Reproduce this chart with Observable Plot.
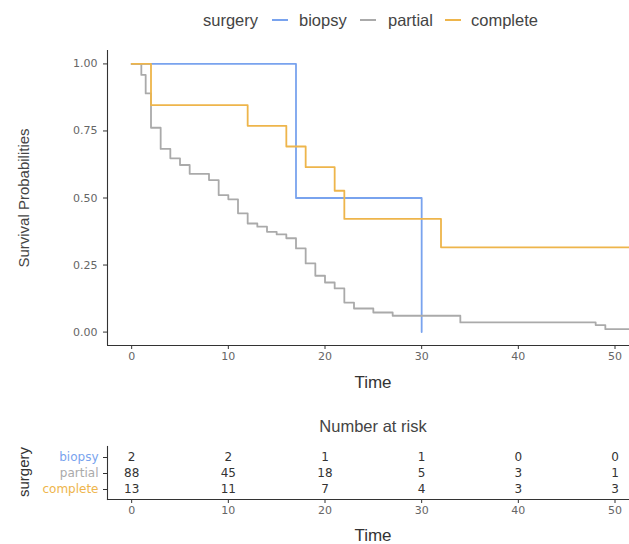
<!DOCTYPE html>
<html><head><meta charset="utf-8">
<script src="https://cdn.jsdelivr.net/npm/d3@7"></script>
<script src="https://cdn.jsdelivr.net/npm/@observablehq/plot@0.6"></script>
<style>
body{margin:0;background:#fff;}
#wrap{position:relative;width:629px;height:544px;overflow:hidden;font-family:"Liberation Sans",Arial,sans-serif;color:#333;}
.abs{position:absolute;white-space:nowrap;line-height:1;}
.abs svg{display:block;}
</style></head><body><div id="wrap"></div>
<script>
// ---- data ----
const strata = ["biopsy", "partial", "complete"];
const strataColors = ["#79a3ee", "#aaaaaa", "#eeb54b"];

const biopsyTime = [0, 17, 30];
const biopsySurv = [1, 0.5, 0];

const partialTime = [0, 1, 1.45, 2, 3, 4, 5, 6, 8, 9, 10, 11, 12, 13, 14, 15, 16, 17, 18, 19, 20, 21, 22, 23, 25, 27, 34, 48, 49, 51.5];
const partialSurv = [1, 0.959, 0.89, 0.762, 0.683, 0.648, 0.623, 0.59, 0.567, 0.511, 0.495, 0.443, 0.405, 0.393, 0.374, 0.364, 0.35, 0.312, 0.256, 0.21, 0.185, 0.163, 0.11, 0.088, 0.073, 0.061, 0.036, 0.026, 0.011, 0.011];

const completeTime = [0, 2, 12, 16, 18, 21, 22, 32, 51.5];
const completeSurv = [1, 0.846, 0.769, 0.692, 0.615, 0.527, 0.422, 0.316, 0.316];

const riskTimes = [0, 10, 20, 30, 40, 50];
const riskBiopsy = [2, 2, 1, 1, 0, 0];
const riskPartial = [88, 45, 18, 5, 3, 1];
const riskComplete = [13, 11, 7, 4, 3, 3];

const xTicks = [0, 10, 20, 30, 40, 50];
const yTicks = [0, 0.25, 0.5, 0.75, 1];
const xDomain = [-2.5, 51.5];
const yDomain = [-0.05, 1.05];

// ---- build tables ----
const curves = [];
[[biopsyTime, biopsySurv], [partialTime, partialSurv], [completeTime, completeSurv]].forEach(([t, s], i) => {
  t.forEach((v, j) => curves.push({time: v, surv: s[j], strata: strata[i]}));
});
const risk = [];
[riskBiopsy, riskPartial, riskComplete].forEach((arr, i) => {
  arr.forEach((n, j) => risk.push({time: riskTimes[j], n, strata: strata[i]}));
});

const wrap = document.getElementById("wrap");
function addText(txt, css) {
  const d = document.createElement("div");
  d.className = "abs";
  d.textContent = txt;
  Object.assign(d.style, css);
  wrap.appendChild(d);
  return d;
}
function place(node, left, top) {
  const d = document.createElement("div");
  d.className = "abs";
  d.style.left = left + "px"; d.style.top = top + "px";
  d.appendChild(node);
  wrap.appendChild(d);
}

// ---- legend ----
const legFont = {fontSize: "16.5px", color: "#444"};
addText("surgery", {left: "203px", top: "12px", ...legFont});
const keyPos = [[272, 299], [360, 388], [445, 471]];
strata.forEach((s, i) => {
  const k = document.createElement("div");
  k.className = "abs";
  Object.assign(k.style, {left: keyPos[i][0] + "px", top: "19px", width: "16px", height: "2px", background: strataColors[i]});
  wrap.appendChild(k);
  addText(s, {left: keyPos[i][1] + "px", top: "12px", ...legFont});
});

// ---- main plot ----
const tickStyle = {fontFamily: "DejaVu Sans, sans-serif", fontSize: "11px"};
const main = Plot.plot({
  width: 629, height: 360,
  marginLeft: 107, marginRight: 0, marginTop: 10, marginBottom: 55,
  style: {...tickStyle, background: "transparent", overflow: "visible"},
  x: {domain: xDomain},
  y: {domain: yDomain},
  color: {domain: strata, range: strataColors},
  marks: [
    Plot.axisX({ticks: xTicks, tickSize: 4, tickFormat: () => "", label: null, color: "#333"}),
    Plot.axisX({ticks: xTicks, tickSize: 0, tickPadding: 7, label: null, color: "#666"}),
    Plot.axisY({ticks: yTicks, tickSize: 4, tickFormat: () => "", label: null, color: "#333"}),
    Plot.axisY({ticks: yTicks, tickSize: 0, tickPadding: 10, tickFormat: d3.format(".2f"), label: null, color: "#666"}),
    Plot.ruleX([xDomain[0]], {stroke: "#333", strokeWidth: 1.1}),
    Plot.ruleY([yDomain[0]], {stroke: "#333", strokeWidth: 1.1}),
    Plot.line(curves, {x: "time", y: "surv", z: "strata", stroke: "strata", curve: "step-after", strokeWidth: 1.8})
  ]
});
place(main, 0, 40);

addText("Survival Probabilities", {left: "23px", top: "198px", fontSize: "15px", color: "#444", transform: "translate(-50%,-50%) rotate(-90deg)"});
addText("Time", {left: "373px", top: "382px", fontSize: "17px", color: "#333", transform: "translate(-50%,-50%)"});

// ---- risk table ----
addText("Number at risk", {left: "373px", top: "426px", fontSize: "16.5px", color: "#444", transform: "translate(-50%,-50%)"});
const tbl = Plot.plot({
  width: 629, height: 144,
  marginLeft: 107, marginRight: 0, marginTop: 46, marginBottom: 45,
  style: {...tickStyle, background: "transparent", overflow: "visible"},
  x: {domain: xDomain},
  y: {type: "point", domain: strata, padding: 0.6},
  marks: [
    Plot.axisX({ticks: xTicks, tickSize: 4, tickFormat: () => "", label: null, color: "#333"}),
    Plot.axisX({ticks: xTicks, tickSize: 0, tickPadding: 7, label: null, color: "#666"}),
    Plot.axisY({tickSize: 4, tickFormat: () => "", label: null, color: "#333"}),
    Plot.frame({anchor: "left", stroke: "#333", strokeWidth: 1.1}),
    Plot.frame({anchor: "bottom", stroke: "#333", strokeWidth: 1.1}),
    ...strata.map((s, i) => Plot.text([s], {y: d => d, text: d => d, frameAnchor: "left", dx: -9, textAnchor: "end", fill: strataColors[i], fontSize: 12})),
    Plot.text(risk, {x: "time", y: "strata", text: "n", fill: "#333", fontSize: 12})
  ]
});
place(tbl, 0, 400);

addText("surgery", {left: "23px", top: "472px", fontSize: "15px", color: "#333", transform: "translate(-50%,-50%) rotate(-90deg)"});
addText("Time", {left: "373px", top: "535px", fontSize: "17px", color: "#333", transform: "translate(-50%,-50%)"});
</script>
</body></html>
